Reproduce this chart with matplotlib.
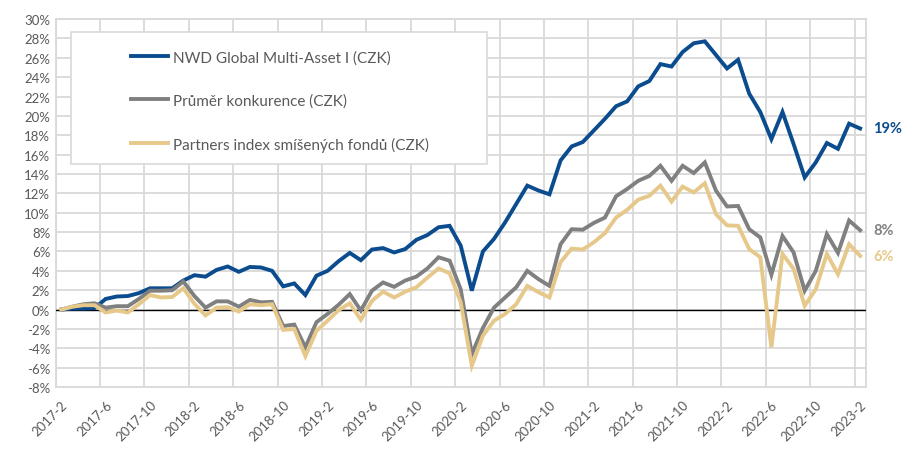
import matplotlib
matplotlib.use("Agg")
import matplotlib.pyplot as plt
from matplotlib.patches import Rectangle
import numpy as np

# monthly performance since 2017-2 (in %)
nwd = [0.0, 0.1, 0.1, 0.15, 1.1, 1.35, 1.4, 1.7, 2.2, 2.2, 2.2, 3.0,
       3.55, 3.4, 4.1, 4.45, 3.9, 4.4, 4.35, 4.0, 2.4, 2.7, 1.5, 3.5,
       4.0, 5.0, 5.85, 5.1, 6.2, 6.35, 5.9, 6.25, 7.2, 7.7, 8.5, 8.65,
       6.6, 1.95, 6.0, 7.3, 9.0, 10.9, 12.8, 12.3, 11.9, 15.4, 16.85, 17.3,
       18.5, 19.7, 21.0, 21.5, 23.05, 23.6, 25.35, 25.1, 26.6, 27.5, 27.7, 26.3,
       24.9, 25.8, 22.3, 20.4, 17.6, 20.4, 17.1, 13.65, 15.2, 17.2, 16.6, 19.2,
       18.7]
competitors = [0.0, 0.3, 0.55, 0.65, 0.2, 0.35, 0.35, 1.1, 1.95, 1.95, 2.0, 2.9,
               1.4, 0.2, 0.85, 0.85, 0.3, 1.0, 0.75, 0.8, -1.7, -1.55, -3.9, -1.3,
               -0.45, 0.5, 1.6, -0.1, 1.95, 2.8, 2.35, 3.0, 3.4, 4.25, 5.4, 5.05,
               2.1, -4.6, -1.9, 0.2, 1.25, 2.3, 4.0, 3.15, 2.45, 6.75, 8.3, 8.25,
               8.95, 9.5, 11.7, 12.45, 13.3, 13.8, 14.85, 13.3, 14.85, 14.1, 15.2, 12.3,
               10.65, 10.7, 8.3, 7.45, 3.6, 7.6, 5.9, 1.95, 4.0, 7.8, 5.85, 9.2,
               8.2]
partners = [0.0, 0.3, 0.45, 0.45, -0.3, -0.1, -0.3, 0.55, 1.5, 1.25, 1.3, 2.2,
            0.6, -0.6, 0.2, 0.25, -0.2, 0.55, 0.45, 0.55, -2.1, -2.0, -4.8, -2.2,
            -1.15, -0.05, 0.65, -1.05, 0.9, 1.85, 1.25, 1.85, 2.3, 3.3, 4.25, 3.75,
            0.75, -5.8, -2.7, -1.15, -0.45, 0.55, 2.45, 1.8, 1.25, 4.9, 6.3, 6.2,
            6.95, 7.9, 9.5, 10.3, 11.35, 11.75, 12.8, 11.15, 12.7, 12.1, 13.05, 9.85,
            8.7, 8.65, 6.25, 5.4, -3.9, 5.75, 4.2, 0.4, 2.1, 5.75, 3.65, 6.75,
            5.55]

tick_labels = ["2017-2", "2017-6", "2017-10", "2018-2", "2018-6", "2018-10",
               "2019-2", "2019-6", "2019-10", "2020-2", "2020-6", "2020-10",
               "2021-2", "2021-6", "2021-10", "2022-2", "2022-6", "2022-10",
               "2023-2"]

series_names = ["NWD Global Multi-Asset I (CZK)", "Průměr konkurence (CZK)",
                "Partners index smíšených fondů (CZK)"]
end_labels = ["19%", "8%", "6%"]

BLUE = "#0B4C8E"
GRAY = "#808080"
GOLD = "#E6C98A"
GRID = "#D9D9D9"
TEXT = "#595959"

plt.rcParams["font.family"] = ["Lato", "DejaVu Sans"]

fig = plt.figure(figsize=(9.03, 4.56), dpi=100)
ax = fig.add_axes([0.0617, 0.149, 0.897, 0.807])

x = np.arange(len(nwd))
colors = [BLUE, GRAY, GOLD]
for values, name, color in zip([nwd, competitors, partners], series_names, colors):
    ax.plot(x, values, color=color, lw=2.8, label=name, zorder=4,
            solid_joinstyle="miter")

for values, text, color in zip([nwd, competitors, partners], end_labels, colors):
    ax.annotate(text, xy=(x[-1], values[-1]), xytext=(9.5, 0),
                textcoords="offset points", color=color, fontsize=10.5,
                fontweight="bold", va="center", ha="left", annotation_clip=False)

ax.axhline(0, color="black", lw=1.0, zorder=3)

ax.set_xlim(-0.5, len(nwd) - 0.5)
ax.set_ylim(-8, 30)

yticks = np.arange(-8, 31, 2)
ax.set_yticks(yticks)
ax.set_yticklabels([f"{v}%" for v in yticks])

ax.set_xticks(np.arange(0, len(nwd), 4))
ax.set_xticklabels(tick_labels, rotation=45, ha="right", va="top",
                   rotation_mode="anchor")
ax.set_xticks(np.arange(-0.5, len(nwd), 4), minor=True)

ax.tick_params(axis="both", which="both", length=0, colors=TEXT, labelsize=9.5)
ax.tick_params(axis="x", pad=8)
ax.tick_params(axis="y", pad=4)

ax.grid(axis="y", which="major", color=GRID, lw=1.3)
ax.grid(axis="x", which="minor", color=GRID, lw=1.3)
ax.grid(axis="x", which="major", visible=False)
ax.set_axisbelow(True)
for spine in ax.spines.values():
    spine.set_color(GRID)
    spine.set_linewidth(1.3)

# legend sits in a wide white box, like the original chart
ax.add_patch(Rectangle((0.0185, 0.606), 0.514, 0.359, transform=ax.transAxes,
                       facecolor="white", edgecolor=GRID, lw=1.2, zorder=5))
leg = ax.legend(loc="upper left", bbox_to_anchor=(0.0926, 0.916), frameon=False,
                fontsize=11, handlelength=2.45, handletextpad=0.3,
                labelspacing=1.9, borderpad=0, borderaxespad=0)
leg.set_zorder(6)
for t in leg.get_texts():
    t.set_color(TEXT)

fig.savefig("out.png", dpi=100)
